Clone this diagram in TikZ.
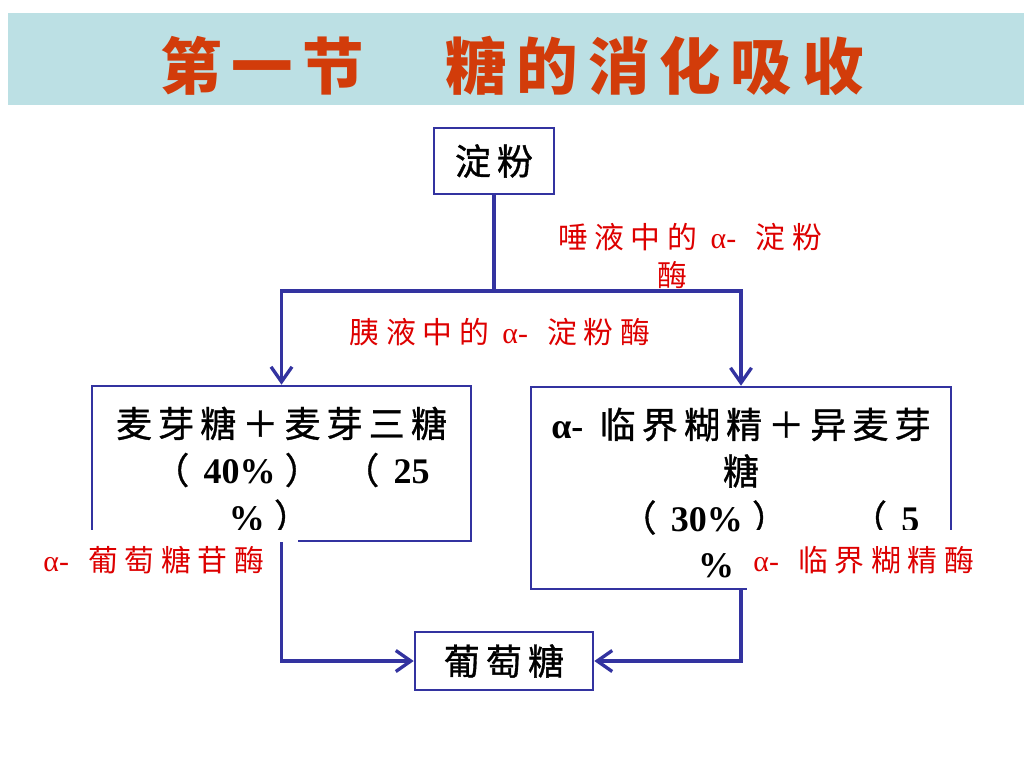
\documentclass[tikz,border=0pt]{standalone}
\usepackage{fontspec}
\setmainfont{Liberation Serif}
\newfontfamily\zhbox[LetterSpace=17,FakeBold=1]{Noto Sans CJK SC}
\newfontfamily\zhred[LetterSpace=22]{Noto Sans CJK SC}
\newfontfamily\zhtitle[LetterSpace=16]{Noto Sans CJK SC}
\usetikzlibrary{arrows.meta,positioning}
\definecolor{bandblue}{RGB}{188,224,228}
\definecolor{lineblue}{RGB}{51,51,160}
\definecolor{enzred}{RGB}{221,0,0}
\definecolor{titlered}{RGB}{210,60,10}
\newcommand\lat[1]{{\rmfamily\bfseries #1}}
\newcommand\ga{{\rmfamily α-}\hspace{0.65em}}

\begin{document}
\begin{tikzpicture}[x=0.02cm, y=-0.02cm,
  box/.style={draw=lineblue, line width=1.5pt, fill=white, font=\fontsize{20.5}{26.5}\selectfont\zhbox, align=center, inner sep=0pt},
  enz/.style={text=enzred, font=\fontsize{17}{21.5}\selectfont\zhred, align=center, inner sep=1pt},
  conn/.style={draw=lineblue, line width=1.9pt},
  arr/.style={conn, -{Straight Barb[length=0.3cm,width=0.42cm]}}]
\useasboundingbox (0,0) rectangle (1024,768);
\fill[bandblue] (8,13) rectangle (1024,105);
\node[font=\fontsize{35}{40}\selectfont\zhtitle\bfseries, text=titlered] (title) at (512,66) {第一节　糖的消化吸收};
\node[box, minimum width=2.4cm, minimum height=1.32cm] (starch) at (494,161) {淀粉};
\node[box, minimum width=7.58cm, minimum height=3.1cm] (maltose) at (281.5,463.5) {\rule{0pt}{25pt}麦芽糖＋麦芽三糖\\\hspace*{0.4cm}（\hspace{0.4em}\lat{40\%}\hspace{0.25em}）\hspace{0.45cm}（\hspace{0.4em}\lat{25}\\\lat{\%}\hspace{0.25em}）\hspace*{0.48cm}};
\node[box, minimum width=8.4cm, minimum height=4.04cm] (dextrin) at (741,488) {\rule{0pt}{23pt}\lat{α-}\hspace{0.45em}临界糊精＋异麦芽\\糖\hspace*{1.12cm}\\\hspace*{1.16cm}（\hspace{0.4em}\lat{30\%}\hspace{0.25em}）\hspace{1.26cm}（\hspace{0.4em}\lat{5}\\\lat{\%}\hspace*{1cm}};
\node[box, minimum width=3.56cm, minimum height=1.16cm] (glucose) at (504,661) {葡萄糖};
\node[enz] (saliva) at (690,256) {唾液中的\hspace{0.45em}\ga 淀粉\\酶\hspace*{0.72cm}};
\node[enz] (pancreas) at (500,332) {胰液中的\hspace{0.45em}\ga 淀粉酶};
\node[enz, fill=white, anchor=west, text width=5cm, align=left, minimum height=1.2cm, inner sep=0.1cm] (glucosidase) at (38,560) {\ga 葡萄糖苷酶};
\node[enz, fill=white, anchor=west, text width=4.6cm, align=left, minimum height=1.2cm, inner sep=0.12cm] (dextrinase) at (747,560) {\ga 临界糊精酶};
\coordinate (split) at (494,291);
\draw[conn] (starch.south) -- (split);
\draw[arr] (split) -| (maltose.north);
\draw[arr] (split) -| (dextrin.north);
\draw[arr] (maltose.south) |- (glucose.west);
\draw[arr] (dextrin.south) |- (glucose.east);
\end{tikzpicture}
\end{document}
